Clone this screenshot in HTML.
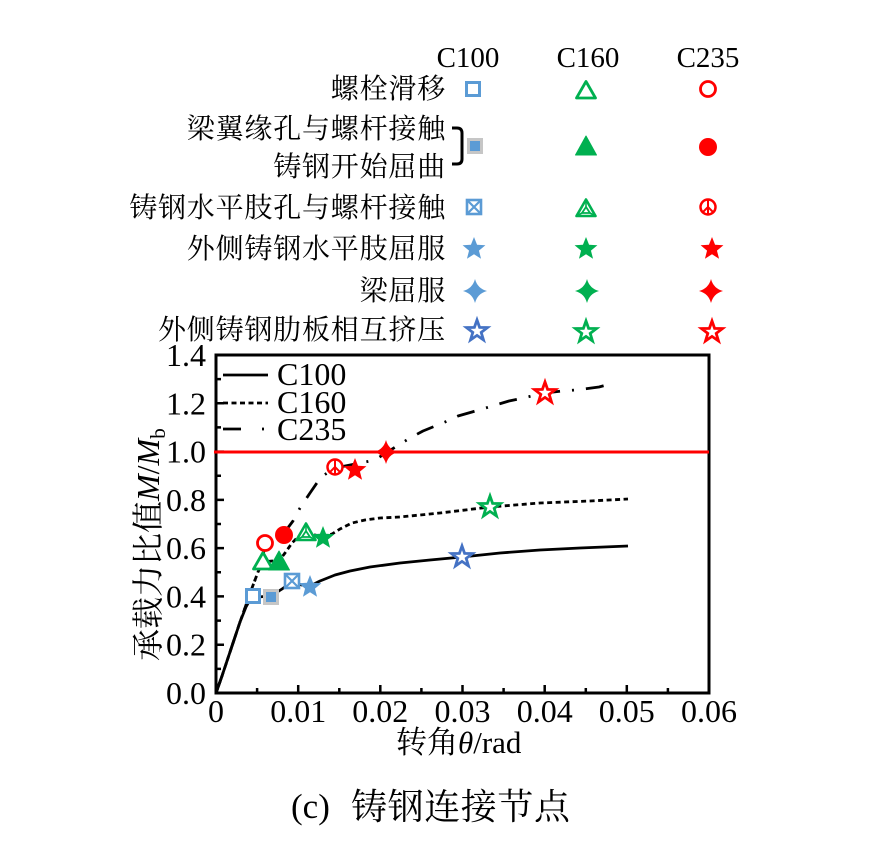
<!DOCTYPE html>
<html><head><meta charset="utf-8"><style>
html,body{margin:0;padding:0;background:#fff;}
svg{display:block;}
</style></head><body>
<svg width="879" height="844" viewBox="0 0 879 844" xmlns="http://www.w3.org/2000/svg" font-family="'Liberation Serif','Times New Roman','Noto Serif CJK SC',serif">
<defs>
<path id="star" d="M0,-12 L3.06,-4.21 L11.41,-3.71 L4.95,1.61 L7.05,9.71 L0,5.2 L-7.05,9.71 L-4.95,1.61 L-11.41,-3.71 L-3.06,-4.21 Z"/>
<path id="ostar" d="M0,-11 L2.6,-3.6 L10.46,-3.4 L4.2,1.37 L6.47,8.9 L0,4.4 L-6.47,8.9 L-4.2,1.37 L-10.46,-3.4 L-2.6,-3.6 Z"/>
<path id="star4" d="M0,-12 Q2.5,-2.5 12,0 Q2.5,2.5 0,12 Q-2.5,2.5 -12,0 Q-2.5,-2.5 0,-12 Z"/>
<g id="osq"><rect x="-6.5" y="-6.5" width="13" height="13" fill="#fff" stroke="#5B9BD5" stroke-width="3"/></g>
<g id="fsq"><rect x="-8" y="-8" width="16" height="16" fill="#c6c6c6"/><rect x="-5" y="-5" width="10" height="10" fill="#5B9BD5"/></g>
<g id="bx"><rect x="-7" y="-7" width="14" height="14" fill="#fff" stroke="#5B9BD5" stroke-width="2.6"/><path d="M-7,-7 L7,7 M7,-7 L-7,7" stroke="#5B9BD5" stroke-width="2.2"/></g>
<g id="otri"><polygon points="0,-8.5 9.5,8 -9.5,8" fill="#fff" stroke="#00B050" stroke-width="2.8" stroke-linejoin="round"/></g>
<g id="ftri"><polygon points="0,-10 10.5,9 -10.5,9" fill="#00B050" stroke="#00B050" stroke-width="1" stroke-linejoin="round"/></g>
<g id="itri"><polygon points="0,-8.5 9.5,8 -9.5,8" fill="#fff" stroke="#00B050" stroke-width="2.6" stroke-linejoin="round"/><polygon points="0,-1 4,5 -4,5" fill="none" stroke="#00B050" stroke-width="1.8"/><path d="M0,-8.5 L0,-1 M9.5,8 L4,5 M-9.5,8 L-4,5" stroke="#00B050" stroke-width="1.6"/></g>
<g id="ocir"><circle r="7.5" fill="#fff" stroke="#FF0000" stroke-width="2.8"/></g>
<g id="fcir"><circle r="9" fill="#FF0000"/></g>
<g id="peace"><circle r="7.5" fill="#fff" stroke="#FF0000" stroke-width="2.5"/><path d="M0,-7.5 L0,7.5 M0,0 L-5.3,5.3 M0,0 L5.3,5.3" stroke="#FF0000" stroke-width="2"/></g>
</defs>

<g fill="#000">
<!-- top legend headers -->
<text x="468" y="67" font-size="29" text-anchor="middle">C100</text>
<text x="588" y="67" font-size="29" text-anchor="middle">C160</text>
<text x="708" y="67" font-size="29" text-anchor="middle">C235</text>

<g font-size="28" text-anchor="end" letter-spacing="0.8" font-family="'Noto Serif CJK SC','Liberation Serif',serif">
<text x="446" y="98">螺栓滑移</text>
<text x="446" y="138">梁翼缘孔与螺杆接触</text>
<text x="446" y="176">铸钢开始屈曲</text>
<text x="446" y="217">铸钢水平肢孔与螺杆接触</text>
<text x="446" y="258">外侧铸钢水平肢屈服</text>
<text x="446" y="300">梁屈服</text>
<text x="446" y="339">外侧铸钢肋板相互挤压</text>
</g>

<!-- tick labels -->
<g font-size="32" text-anchor="end">
<text x="206" y="704">0.0</text>
<text x="206" y="655.7">0.2</text>
<text x="206" y="607.4">0.4</text>
<text x="206" y="559.1">0.6</text>
<text x="206" y="510.9">0.8</text>
<text x="206" y="462.6">1.0</text>
<text x="206" y="414.3">1.2</text>
<text x="206" y="366">1.4</text>
</g>
<g font-size="32" text-anchor="middle">
<text x="216" y="722">0</text>
<text x="298.2" y="722">0.01</text>
<text x="380.3" y="722">0.02</text>
<text x="462.5" y="722">0.03</text>
<text x="544.7" y="722">0.04</text>
<text x="626.8" y="722">0.05</text>
<text x="709" y="722">0.06</text>
</g>

<!-- axis titles -->
<text x="396" y="753" font-size="31"><tspan font-family="'Noto Serif CJK SC','Liberation Serif',serif">转角</tspan><tspan font-style="italic" font-family="'Liberation Serif',serif">θ</tspan><tspan font-family="'Liberation Serif',serif">/rad</tspan></text>
<text transform="translate(159,661) rotate(-90)" font-size="32"><tspan font-family="'Noto Serif CJK SC','Liberation Serif',serif">承载力比值</tspan><tspan font-style="italic" font-family="'Liberation Serif',serif">M</tspan><tspan font-family="'Liberation Serif',serif">/</tspan><tspan font-style="italic" font-family="'Liberation Serif',serif">M</tspan><tspan font-size="21" dy="6" font-family="'Liberation Serif',serif">b</tspan></text>

<!-- caption -->
<text x="291" y="818" font-size="35">(c)</text>
<text x="351" y="819" font-size="36" letter-spacing="0.6" font-family="'Noto Serif CJK SC','Liberation Serif',serif">铸钢连接节点</text>

<!-- in-plot legend text -->
<g font-size="32">
<text x="277" y="385">C100</text>
<text x="277" y="413">C160</text>
<text x="277" y="440">C235</text>
</g>
</g>

<path d="M452,128 L457,128 Q462,128 462,133 L462,159 Q462,164 457,164 L452,164" fill="none" stroke="#000" stroke-width="3"/>

<!-- legend markers -->
<use href="#osq" x="473" y="89"/>
<use href="#otri" x="586" y="90"/>
<use href="#ocir" x="708" y="89"/>
<use href="#fsq" x="475" y="146"/>
<use href="#ftri" x="586" y="146"/>
<use href="#fcir" x="708" y="147"/>
<use href="#bx" x="474" y="207"/>
<use href="#itri" x="586" y="208"/>
<use href="#peace" x="708" y="207"/>
<use href="#star" x="474" y="249" fill="#5B9BD5"/>
<use href="#star" x="586" y="249" fill="#00B050"/>
<use href="#star" x="712" y="249" fill="#FF0000"/>
<use href="#star4" x="475" y="291" fill="#5B9BD5"/>
<use href="#star4" x="587" y="291" fill="#00B050"/>
<use href="#star4" x="711" y="291" fill="#FF0000"/>
<use href="#ostar" x="477" y="331" fill="#fff" stroke="#4472C4" stroke-width="2.8"/>
<use href="#ostar" x="586" y="332" fill="#fff" stroke="#00B050" stroke-width="2.8"/>
<use href="#ostar" x="712" y="332" fill="#fff" stroke="#FF0000" stroke-width="2.8"/>

<!-- axes frame -->
<rect x="216" y="355" width="493" height="338" fill="none" stroke="#000" stroke-width="3"/>
<g stroke="#000" stroke-width="2.5">
<path d="M298.2,693 v-8 M380.3,693 v-8 M462.5,693 v-8 M544.7,693 v-8 M626.8,693 v-8"/>
<path d="M257.1,693 v-5 M339.3,693 v-5 M421.4,693 v-5 M503.6,693 v-5 M585.8,693 v-5 M667.9,693 v-5"/>
<path d="M216,644.7 h8 M216,596.4 h8 M216,548.1 h8 M216,499.9 h8 M216,451.6 h8 M216,403.3 h8"/>
<path d="M216,668.9 h5 M216,620.6 h5 M216,572.3 h5 M216,524 h5 M216,475.7 h5 M216,427.4 h5 M216,379.1 h5"/>
</g>

<!-- curves -->
<g fill="none" stroke="#000" stroke-width="2.8" stroke-linejoin="round">
<polyline points="216,693 222,676 228,658 234,640 240,622 246,607 251,598 258,597 271,596 282,589 292,582 302,585 312,585 320,581 335,575 350,571 370,567 400,563 430,560 462,557 500,553 540,550 580,548 628,546"/>
<polyline stroke-dasharray="5 3.5" points="216,693 222,676 228,658 234,640 240,622 246,605 252,588 258,572 263,562 272,561 279,561 285,553 292,543 300,535 306,532 315,535 323,537 332,534 340,529 352,523 365,520 380,518 400,517 440,513 490,507 540,503 590,501 628,499"/>
<polyline stroke-dasharray="18 12 2 12" points="216,693 222,676 228,658 234,640 240,622 246,605 252,588 258,572 262,560 265,546 275,538 284,533 293,521 300,508 310,493 321,477 335,468 355,464 370,461 378,458 397,446 410,438 423,431 445,422 458,416 472,412 489,407 509,401 523,398 545,393 562,391 576,390 599,387 614,383"/>
</g>

<!-- red reference line -->
<line x1="214" y1="452" x2="709" y2="452" stroke="#FF0000" stroke-width="3"/>

<!-- in-plot legend lines -->
<g stroke="#000" stroke-width="2.8">
<line x1="223" y1="375" x2="268" y2="375"/>
<line x1="223" y1="403" x2="268" y2="403" stroke-dasharray="5 3.5"/>
<line x1="223" y1="429" x2="241" y2="429"/>
<line x1="262" y1="429" x2="264" y2="429"/>
</g>

<!-- plot markers -->
<use href="#osq" x="253" y="596"/>
<use href="#fsq" x="271" y="597"/>
<use href="#bx" x="292" y="581"/>
<use href="#star" x="310" y="587" fill="#5B9BD5"/>
<use href="#ostar" x="462" y="557" fill="#fff" stroke="#4472C4" stroke-width="2.8"/>

<use href="#otri" x="263" y="561"/>
<use href="#ftri" x="279" y="561"/>
<use href="#itri" x="306" y="532"/>
<use href="#star" x="323" y="538" fill="#00B050"/>
<use href="#ostar" x="490" y="507" fill="#fff" stroke="#00B050" stroke-width="2.8"/>

<use href="#ocir" x="265" y="543"/>
<use href="#fcir" x="284" y="535"/>
<use href="#peace" x="335" y="467"/>
<use href="#star" x="355" y="470" fill="#FF0000"/>
<use href="#star4" x="386" y="452" fill="#FF0000"/>
<use href="#ostar" x="545" y="393" fill="#fff" stroke="#FF0000" stroke-width="2.8"/>
</svg>
</body></html>
